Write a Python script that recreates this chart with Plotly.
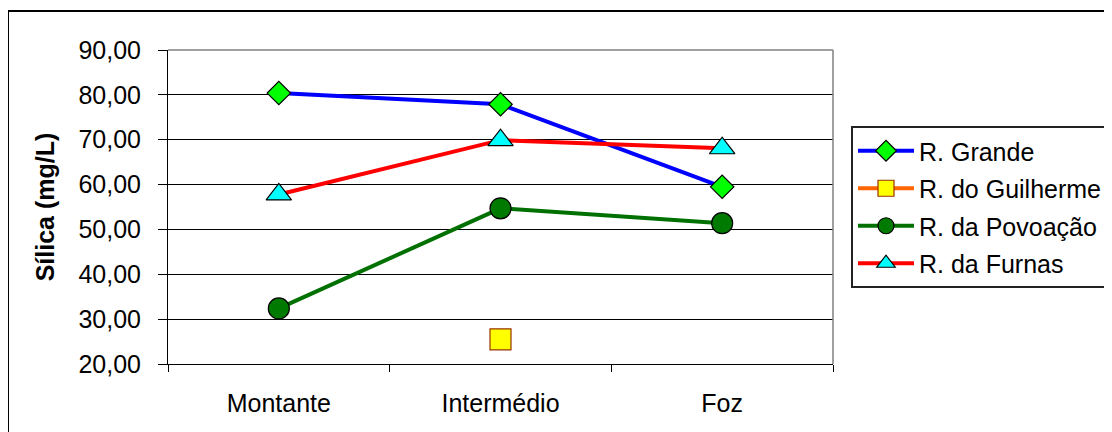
import plotly.graph_objects as go

categories = ["Montante", "Intermédio", "Foz"]
grande = [80.4, 77.9, 59.5]
guilherme = [None, 25.5, None]
povoacao = [32.4, 54.7, 51.4]
furnas = [57.8, 69.9, 68.1]

y_ticks = [20, 30, 40, 50, 60, 70, 80, 90]
y_tick_text = ["20,00", "30,00", "40,00", "50,00", "60,00", "70,00", "80,00", "90,00"]

FONT = "Liberation Sans, Arial, sans-serif"
FS = 25
OFF = 8  # page body margin

fig = go.Figure()

fig.add_trace(go.Scatter(
    x=categories, y=grande, name="R. Grande", mode="lines+markers", legendgroup="a",
    line=dict(color="#0000FF", width=4),
    marker=dict(symbol="diamond", size=18, color="#00FF00", line=dict(color="#000000", width=1.2)),
))
fig.add_trace(go.Scatter(
    x=categories, y=guilherme, name="R. do Guilherme", mode="lines+markers", legendgroup="b",
    line=dict(color="#FF6600", width=4),
    marker=dict(symbol="square", size=21, color="#FFFF00", line=dict(color="#993300", width=1.2)),
))
fig.add_trace(go.Scatter(
    x=categories, y=povoacao, name="R. da Povoação", mode="lines+markers", legendgroup="c",
    line=dict(color="#007000", width=4),
    marker=dict(symbol="circle", size=21, color="#007A00", line=dict(color="#000000", width=1.2)),
))
fig.add_trace(go.Scatter(
    x=categories, y=furnas, name="R. da Furnas", mode="lines+markers", legendgroup="d",
    line=dict(color="#FF0000", width=4),
    marker=dict(symbol="triangle-up", size=22, color="#00FFFF", line=dict(color="#000000", width=1.2)),
))

# figure occupies page pixels OFF..1112 horizontally and OFF..432 vertically
W, H = 1112 - OFF, 432 - OFF
L, R, T, B = 168 - OFF, 1112 - 833, 50 - OFF, 432 - 364
pw, ph = W - L - R, H - T - B

def px(xp):
    return (xp - OFF - L) / pw

def py(yp):
    return (364 - yp) / ph

fig.update_layout(
    width=W, height=H,
    margin=dict(l=L, r=R, t=T, b=B, autoexpand=False),
    paper_bgcolor="white", plot_bgcolor="white",
    font=dict(family=FONT, size=FS, color="#000000"),
    showlegend=True,
    legend=dict(
        x=px(851), y=py(126), xanchor="left", yanchor="top",
        bgcolor="white", bordercolor="#222222", borderwidth=2,
        font=dict(family=FONT, size=FS, color="#000000"),
        tracegroupgap=2, itemwidth=56,
    ),
    xaxis=dict(
        type="category", range=[-0.5, 2.5], tickson="boundaries",
        showgrid=False, zeroline=False,
        showline=True, linecolor="#000000", linewidth=1,
        ticks="outside", ticklen=7, tickcolor="#000000", tickwidth=1,
        ticklabelstandoff=17,
        tickfont=dict(family=FONT, size=FS),
    ),
    yaxis=dict(
        range=[20, 90], tickvals=y_ticks, ticktext=y_tick_text,
        showgrid=True, gridcolor="#000000", gridwidth=1, zeroline=False,
        showline=True, linecolor="#000000", linewidth=1,
        ticks="outside", ticklen=9, tickcolor="#000000", tickwidth=1,
        ticklabelstandoff=12,
        tickfont=dict(family=FONT, size=FS),
        title=dict(text="<b>Sílica (mg/L)</b>", font=dict(family=FONT, size=FS), standoff=16),
    ),
    shapes=[
        dict(type="line", xref="paper", yref="paper", x0=0, x1=1, y0=1, y1=1,
             line=dict(color="#808080", width=1.5), layer="above"),
        dict(type="line", xref="paper", yref="paper", x0=1, x1=1, y0=0, y1=1,
             line=dict(color="#808080", width=1.5), layer="above"),
        dict(type="rect", xref="paper", yref="paper",
             x0=px(8), x1=px(1130), y0=py(445), y1=py(11),
             line=dict(color="#000000", width=2), layer="above"),
    ],
)

fig.write_html("out.html")
